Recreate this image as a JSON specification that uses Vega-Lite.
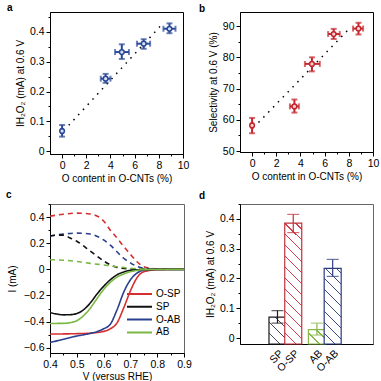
{
  "$schema": "https://vega.github.io/schema/vega-lite/v6.json",
  "padding": {"left": 5, "top": 2, "right": 0, "bottom": 0},
  "config": {
    "font": "Liberation Sans",
    "view": {"stroke": "black", "strokeWidth": 1},
    "axis": {"grid": false, "domainColor": "black", "tickColor": "black", "labelColor": "black", "titleColor": "black", "labelFontSize": 10.5, "titleFontSize": 10, "titleFontWeight": "normal", "tickSize": 4, "labelPadding": 2, "labelFlush": false, "labelOverlap": false},
    "title": {"fontSize": 10, "fontWeight": "bold", "anchor": "start", "frame": "group", "color": "black", "baseline": "alphabetic"}
  },
  "resolve": {"scale": {"color": "independent", "stroke": "independent", "strokeDash": "independent", "fill": "independent"}},
  "bounds": "flush",
  "columns": 2,
  "spacing": {"row": 50, "column": 56},
  "datasets": {
    "aPts": [
      {"o": 0, "olo": -0.08, "ohi": 0.08, "i": 0.068, "ilo": 0.049, "ihi": 0.088},
      {"o": 3.6, "olo": 3.2, "ohi": 4.0, "i": 0.243, "ilo": 0.229, "ihi": 0.259},
      {"o": 4.94, "olo": 4.38, "ohi": 5.53, "i": 0.332, "ilo": 0.309, "ihi": 0.358},
      {"o": 6.75, "olo": 6.19, "ohi": 7.28, "i": 0.36, "ilo": 0.343, "ihi": 0.375},
      {"o": 8.88, "olo": 8.38, "ohi": 9.38, "i": 0.41, "ilo": 0.395, "ihi": 0.428}
    ],
    "aFit": [{"o": 0.55, "i": 0.087}, {"o": 8.27, "i": 0.425}],
    "bPts": [
      {"o": 0, "olo": -0.08, "ohi": 0.08, "s": 58.2, "slo": 55.7, "shi": 60.6},
      {"o": 3.5, "olo": 3.13, "ohi": 3.87, "s": 64.3, "slo": 62.3, "shi": 66.5},
      {"o": 4.95, "olo": 4.37, "ohi": 5.6, "s": 77.9, "slo": 75.5, "shi": 80.0},
      {"o": 6.75, "olo": 6.29, "ohi": 7.25, "s": 87.45, "slo": 85.85, "shi": 89.1},
      {"o": 8.8, "olo": 8.35, "ohi": 9.18, "s": 89.2, "slo": 87.3, "shi": 91.05}
    ],
    "bFit": [{"o": 0.53, "s": 59.15}, {"o": 8.02, "s": 89.1}],
    "curves": [
      {"s": "O-SP", "t": "ring", "v": 0.4, "i": 0.407},
      {"s": "O-SP", "t": "ring", "v": 0.45, "i": 0.422},
      {"s": "O-SP", "t": "ring", "v": 0.5, "i": 0.43},
      {"s": "O-SP", "t": "ring", "v": 0.55, "i": 0.424},
      {"s": "O-SP", "t": "ring", "v": 0.6, "i": 0.37},
      {"s": "O-SP", "t": "ring", "v": 0.625, "i": 0.30},
      {"s": "O-SP", "t": "ring", "v": 0.65, "i": 0.24},
      {"s": "O-SP", "t": "ring", "v": 0.675, "i": 0.175},
      {"s": "O-SP", "t": "ring", "v": 0.7, "i": 0.115},
      {"s": "O-SP", "t": "ring", "v": 0.725, "i": 0.058},
      {"s": "O-SP", "t": "ring", "v": 0.75, "i": 0.02},
      {"s": "O-SP", "t": "ring", "v": 0.8, "i": 0.004},
      {"s": "O-SP", "t": "ring", "v": 0.9, "i": 0.002},
      {"s": "O-AB", "t": "ring", "v": 0.4, "i": 0.255},
      {"s": "O-AB", "t": "ring", "v": 0.45, "i": 0.27},
      {"s": "O-AB", "t": "ring", "v": 0.5, "i": 0.277},
      {"s": "O-AB", "t": "ring", "v": 0.55, "i": 0.27},
      {"s": "O-AB", "t": "ring", "v": 0.6, "i": 0.225},
      {"s": "O-AB", "t": "ring", "v": 0.625, "i": 0.185},
      {"s": "O-AB", "t": "ring", "v": 0.65, "i": 0.135},
      {"s": "O-AB", "t": "ring", "v": 0.675, "i": 0.085},
      {"s": "O-AB", "t": "ring", "v": 0.7, "i": 0.05},
      {"s": "O-AB", "t": "ring", "v": 0.725, "i": 0.022},
      {"s": "O-AB", "t": "ring", "v": 0.75, "i": 0.008},
      {"s": "O-AB", "t": "ring", "v": 0.8, "i": 0.002},
      {"s": "O-AB", "t": "ring", "v": 0.9, "i": 0.002},
      {"s": "SP", "t": "ring", "v": 0.4, "i": 0.255},
      {"s": "SP", "t": "ring", "v": 0.425, "i": 0.262},
      {"s": "SP", "t": "ring", "v": 0.45, "i": 0.262},
      {"s": "SP", "t": "ring", "v": 0.475, "i": 0.24},
      {"s": "SP", "t": "ring", "v": 0.5, "i": 0.215},
      {"s": "SP", "t": "ring", "v": 0.55, "i": 0.14},
      {"s": "SP", "t": "ring", "v": 0.6, "i": 0.065},
      {"s": "SP", "t": "ring", "v": 0.625, "i": 0.035},
      {"s": "SP", "t": "ring", "v": 0.65, "i": 0.015},
      {"s": "SP", "t": "ring", "v": 0.7, "i": 0.003},
      {"s": "SP", "t": "ring", "v": 0.8, "i": 0.002},
      {"s": "SP", "t": "ring", "v": 0.9, "i": 0.002},
      {"s": "AB", "t": "ring", "v": 0.4, "i": 0.074},
      {"s": "AB", "t": "ring", "v": 0.45, "i": 0.07},
      {"s": "AB", "t": "ring", "v": 0.5, "i": 0.06},
      {"s": "AB", "t": "ring", "v": 0.55, "i": 0.046},
      {"s": "AB", "t": "ring", "v": 0.6, "i": 0.033},
      {"s": "AB", "t": "ring", "v": 0.65, "i": 0.02},
      {"s": "AB", "t": "ring", "v": 0.7, "i": 0.008},
      {"s": "AB", "t": "ring", "v": 0.75, "i": 0.003},
      {"s": "AB", "t": "ring", "v": 0.8, "i": 0.002},
      {"s": "AB", "t": "ring", "v": 0.9, "i": 0.002},
      {"s": "O-SP", "t": "disk", "v": 0.4, "i": -0.495},
      {"s": "O-SP", "t": "disk", "v": 0.45, "i": -0.494},
      {"s": "O-SP", "t": "disk", "v": 0.5, "i": -0.492},
      {"s": "O-SP", "t": "disk", "v": 0.55, "i": -0.488},
      {"s": "O-SP", "t": "disk", "v": 0.6, "i": -0.475},
      {"s": "O-SP", "t": "disk", "v": 0.625, "i": -0.455},
      {"s": "O-SP", "t": "disk", "v": 0.65, "i": -0.41},
      {"s": "O-SP", "t": "disk", "v": 0.675, "i": -0.295},
      {"s": "O-SP", "t": "disk", "v": 0.7, "i": -0.165},
      {"s": "O-SP", "t": "disk", "v": 0.725, "i": -0.063},
      {"s": "O-SP", "t": "disk", "v": 0.75, "i": -0.018},
      {"s": "O-SP", "t": "disk", "v": 0.8, "i": -0.003},
      {"s": "O-SP", "t": "disk", "v": 0.9, "i": 0},
      {"s": "O-AB", "t": "disk", "v": 0.4, "i": -0.56},
      {"s": "O-AB", "t": "disk", "v": 0.45, "i": -0.535},
      {"s": "O-AB", "t": "disk", "v": 0.5, "i": -0.51},
      {"s": "O-AB", "t": "disk", "v": 0.55, "i": -0.49},
      {"s": "O-AB", "t": "disk", "v": 0.6, "i": -0.455},
      {"s": "O-AB", "t": "disk", "v": 0.625, "i": -0.42},
      {"s": "O-AB", "t": "disk", "v": 0.65, "i": -0.31},
      {"s": "O-AB", "t": "disk", "v": 0.675, "i": -0.175},
      {"s": "O-AB", "t": "disk", "v": 0.7, "i": -0.08},
      {"s": "O-AB", "t": "disk", "v": 0.725, "i": -0.028},
      {"s": "O-AB", "t": "disk", "v": 0.75, "i": -0.006},
      {"s": "O-AB", "t": "disk", "v": 0.8, "i": -0.001},
      {"s": "O-AB", "t": "disk", "v": 0.9, "i": 0},
      {"s": "SP", "t": "disk", "v": 0.4, "i": -0.33},
      {"s": "SP", "t": "disk", "v": 0.425, "i": -0.342},
      {"s": "SP", "t": "disk", "v": 0.45, "i": -0.348},
      {"s": "SP", "t": "disk", "v": 0.475, "i": -0.347},
      {"s": "SP", "t": "disk", "v": 0.5, "i": -0.338},
      {"s": "SP", "t": "disk", "v": 0.525, "i": -0.31},
      {"s": "SP", "t": "disk", "v": 0.55, "i": -0.258},
      {"s": "SP", "t": "disk", "v": 0.575, "i": -0.19},
      {"s": "SP", "t": "disk", "v": 0.6, "i": -0.13},
      {"s": "SP", "t": "disk", "v": 0.625, "i": -0.08},
      {"s": "SP", "t": "disk", "v": 0.65, "i": -0.042},
      {"s": "SP", "t": "disk", "v": 0.675, "i": -0.02},
      {"s": "SP", "t": "disk", "v": 0.7, "i": -0.008},
      {"s": "SP", "t": "disk", "v": 0.75, "i": -0.002},
      {"s": "SP", "t": "disk", "v": 0.9, "i": 0},
      {"s": "AB", "t": "disk", "v": 0.4, "i": -0.414},
      {"s": "AB", "t": "disk", "v": 0.45, "i": -0.413},
      {"s": "AB", "t": "disk", "v": 0.475, "i": -0.408},
      {"s": "AB", "t": "disk", "v": 0.5, "i": -0.393},
      {"s": "AB", "t": "disk", "v": 0.525, "i": -0.355},
      {"s": "AB", "t": "disk", "v": 0.55, "i": -0.298},
      {"s": "AB", "t": "disk", "v": 0.575, "i": -0.225},
      {"s": "AB", "t": "disk", "v": 0.6, "i": -0.155},
      {"s": "AB", "t": "disk", "v": 0.625, "i": -0.1},
      {"s": "AB", "t": "disk", "v": 0.65, "i": -0.06},
      {"s": "AB", "t": "disk", "v": 0.675, "i": -0.035},
      {"s": "AB", "t": "disk", "v": 0.7, "i": -0.018},
      {"s": "AB", "t": "disk", "v": 0.725, "i": -0.008},
      {"s": "AB", "t": "disk", "v": 0.75, "i": -0.002},
      {"s": "AB", "t": "disk", "v": 0.9, "i": 0}
    ],
    "bars": [
      {"bar": "SP", "pos": 1, "val": 0.07, "lo": 0.05, "hi": 0.092},
      {"bar": "O-SP", "pos": 2, "val": 0.386, "lo": 0.354, "hi": 0.415},
      {"bar": "AB", "pos": 3.5, "val": 0.028, "lo": 0.01, "hi": 0.05},
      {"bar": "O-AB", "pos": 4.5, "val": 0.234, "lo": 0.207, "hi": 0.264}
    ]
  },
  "concat": [
    {
      "width": 133, "height": 142,
      "title": {"text": "a", "dx": -43, "offset": -1},
      "data": {"name": "aPts"},
      "layer": [
        {
          "data": {"name": "aFit"},
          "mark": {"type": "line", "color": "black", "strokeWidth": 1.5, "strokeDash": [1.5, 5.5]},
          "encoding": {
            "x": {"field": "o", "type": "quantitative", "scale": {"domain": [-1, 10], "nice": false, "zero": false},
              "axis": {"title": "O content in O-CNTs (%)", "values": [0,1,2,3,4,5,6,7,8,9,10], "tickCount": 60, "labelOverlap": false, "labelExpr": "datum.value % 2 == 0 ? format(datum.value, 'd') : ''", "tickSize": {"condition": {"test": "datum.value % 2 == 0", "value": 4}, "value": 2}, "titlePadding": 3}},
            "y": {"field": "i", "type": "quantitative", "scale": {"domain": [-0.009, 0.466], "nice": false, "zero": false},
              "axis": {"title": "IH₂O₂ (mA) at 0.6 V", "values": [0,0.05,0.1,0.15,0.2,0.25,0.3,0.35,0.4,0.45], "tickCount": 60, "labelOverlap": false, "labelExpr": "round(datum.value*20) % 2 == 0 ? format(datum.value, '.1~f') : ''", "tickSize": {"condition": {"test": "round(datum.value*20) % 2 == 0", "value": 4}, "value": 2}, "titlePadding": 4}}
          }
        },
        {
          "mark": {"type": "rule", "color": "#2a4897", "strokeWidth": 2},
          "encoding": {"x": {"field": "o", "type": "quantitative"}, "y": {"field": "ilo", "type": "quantitative"}, "y2": {"field": "ihi"}}
        },
        {
          "mark": {"type": "rule", "color": "#2a4897", "strokeWidth": 2},
          "encoding": {"y": {"field": "i", "type": "quantitative"}, "x": {"field": "olo", "type": "quantitative"}, "x2": {"field": "ohi"}}
        },
        {
          "mark": {"type": "tick", "color": "#2a4897", "orient": "horizontal", "size": 6, "thickness": 2},
          "encoding": {"x": {"field": "o", "type": "quantitative"}, "y": {"field": "ilo", "type": "quantitative"}}
        },
        {
          "mark": {"type": "tick", "color": "#2a4897", "orient": "horizontal", "size": 6, "thickness": 2},
          "encoding": {"x": {"field": "o", "type": "quantitative"}, "y": {"field": "ihi", "type": "quantitative"}}
        },
        {
          "mark": {"type": "tick", "color": "#2a4897", "orient": "vertical", "size": 6, "thickness": 2},
          "encoding": {"x": {"field": "olo", "type": "quantitative"}, "y": {"field": "i", "type": "quantitative"}}
        },
        {
          "mark": {"type": "tick", "color": "#2a4897", "orient": "vertical", "size": 6, "thickness": 2},
          "encoding": {"x": {"field": "ohi", "type": "quantitative"}, "y": {"field": "i", "type": "quantitative"}}
        },
        {
          "mark": {"type": "point", "shape": "circle", "filled": true, "fill": "#d5e0f3", "stroke": "#2a4897", "strokeWidth": 1.5, "size": 22, "opacity": 1},
          "encoding": {"x": {"field": "o", "type": "quantitative"}, "y": {"field": "i", "type": "quantitative"}}
        }
      ]
    },
    {
      "width": 133, "height": 140,
      "title": {"text": "b", "dx": -41, "offset": -1.5},
      "data": {"name": "bPts"},
      "layer": [
        {
          "data": {"name": "bFit"},
          "mark": {"type": "line", "color": "black", "strokeWidth": 1.5, "strokeDash": [1.5, 5.5]},
          "encoding": {
            "x": {"field": "o", "type": "quantitative", "scale": {"domain": [-1, 10], "nice": false, "zero": false},
              "axis": {"title": "O content in O-CNTs (%)", "values": [0,1,2,3,4,5,6,7,8,9,10], "tickCount": 60, "labelOverlap": false, "labelExpr": "datum.value % 2 == 0 ? format(datum.value, 'd') : ''", "tickSize": {"condition": {"test": "datum.value % 2 == 0", "value": 4}, "value": 2}, "titlePadding": 3}},
            "y": {"field": "s", "type": "quantitative", "scale": {"domain": [49.7, 94.5], "nice": false, "zero": false},
              "axis": {"title": "Selectivity at 0.6 V (%)", "values": [50,55,60,65,70,75,80,85,90], "tickCount": 60, "labelOverlap": false, "labelExpr": "datum.value % 10 == 0 ? format(datum.value, 'd') : ''", "tickSize": {"condition": {"test": "datum.value % 10 == 0", "value": 4}, "value": 2}, "titlePadding": 4}}
          }
        },
        {
          "mark": {"type": "rule", "color": "#c4262e", "strokeWidth": 2},
          "encoding": {"x": {"field": "o", "type": "quantitative"}, "y": {"field": "slo", "type": "quantitative"}, "y2": {"field": "shi"}}
        },
        {
          "mark": {"type": "rule", "color": "#c4262e", "strokeWidth": 2},
          "encoding": {"y": {"field": "s", "type": "quantitative"}, "x": {"field": "olo", "type": "quantitative"}, "x2": {"field": "ohi"}}
        },
        {
          "mark": {"type": "tick", "color": "#c4262e", "orient": "horizontal", "size": 6, "thickness": 2},
          "encoding": {"x": {"field": "o", "type": "quantitative"}, "y": {"field": "slo", "type": "quantitative"}}
        },
        {
          "mark": {"type": "tick", "color": "#c4262e", "orient": "horizontal", "size": 6, "thickness": 2},
          "encoding": {"x": {"field": "o", "type": "quantitative"}, "y": {"field": "shi", "type": "quantitative"}}
        },
        {
          "mark": {"type": "tick", "color": "#c4262e", "orient": "vertical", "size": 6, "thickness": 2},
          "encoding": {"x": {"field": "olo", "type": "quantitative"}, "y": {"field": "s", "type": "quantitative"}}
        },
        {
          "mark": {"type": "tick", "color": "#c4262e", "orient": "vertical", "size": 6, "thickness": 2},
          "encoding": {"x": {"field": "ohi", "type": "quantitative"}, "y": {"field": "s", "type": "quantitative"}}
        },
        {
          "mark": {"type": "point", "shape": "circle", "filled": true, "fill": "#f5d3d3", "stroke": "#c4262e", "strokeWidth": 1.5, "size": 22, "opacity": 1},
          "encoding": {"x": {"field": "o", "type": "quantitative"}, "y": {"field": "s", "type": "quantitative"}}
        }
      ]
    },
    {
      "width": 134, "height": 149,
      "title": {"text": "c", "dx": -44, "offset": -1},
      "view": {"stroke": "#666"},
      "data": {"name": "curves"},
      "mark": {"type": "line", "strokeWidth": 1.6, "interpolate": "monotone", "clip": true},
      "encoding": {
        "x": {"field": "v", "type": "quantitative", "scale": {"domain": [0.4, 0.9], "nice": false, "zero": false},
          "axis": {"title": "V (versus RHE)", "values": [0.4,0.45,0.5,0.55,0.6,0.65,0.7,0.75,0.8,0.85,0.9], "tickCount": 60, "labelOverlap": false, "labelExpr": "round(datum.value*20) % 2 == 0 ? format(datum.value, '.1f') : ''", "tickSize": {"condition": {"test": "round(datum.value*20) % 2 == 0", "value": 4}, "value": 2}, "titlePadding": 2}},
        "y": {"field": "i", "type": "quantitative", "scale": {"domain": [-0.64, 0.5], "nice": false, "zero": false},
          "axis": {"title": "I (mA)", "values": [-0.6,-0.5,-0.4,-0.3,-0.2,-0.1,0,0.1,0.2,0.3,0.4,0.5], "tickCount": 60, "labelOverlap": false, "labelExpr": "round(datum.value*10) % 2 == 0 ? format(datum.value, '.1~f') : ''", "tickSize": {"condition": {"test": "round(datum.value*10) % 2 == 0", "value": 4}, "value": 2}, "titlePadding": 6}},
        "color": {"field": "s", "type": "nominal", "scale": {"domain": ["O-SP", "SP", "O-AB", "AB"], "range": ["#d62f2f", "#111111", "#2a3f8f", "#79b843"]},
          "legend": {"orient": "none", "legendX": 76, "legendY": 84.5, "title": null, "symbolType": "stroke", "symbolSize": 625, "symbolStrokeWidth": 2, "labelFontSize": 10, "clipHeight": 11, "rowPadding": 1.8, "padding": 0, "labelOffset": 3}},
        "strokeDash": {"field": "t", "type": "nominal", "scale": {"domain": ["disk", "ring"], "range": [[1, 0], [5, 4]]}, "legend": null}
      }
    },
    {
      "width": 133, "height": 140,
      "title": {"text": "d", "dx": -41, "offset": -2},
      "view": {"stroke": "#666"},
      "data": {"name": "bars"},
      "layer": [
        {
          "mark": {"type": "bar", "width": 17, "strokeWidth": 1.2},
          "encoding": {
            "x": {"field": "pos", "type": "quantitative", "scale": {"domain": [-1.06, 6.74], "nice": false, "zero": false},
              "axis": {"title": null, "values": [1, 2, 3.5, 4.5], "tickCount": 60, "ticks": false, "labelAngle": -45, "labelPadding": 4, "labelFontSize": 10.5, "labelOverlap": false, "labelExpr": "datum.value == 1 ? 'SP' : datum.value == 2 ? 'O-SP' : datum.value == 3.5 ? 'AB' : 'O-AB'"}},
            "y": {"field": "val", "type": "quantitative", "scale": {"domain": [-0.02, 0.45], "nice": false, "zero": false},
              "axis": {"title": "IH₂O₂ (mA) at 0.6 V", "values": [0,0.05,0.1,0.15,0.2,0.25,0.3,0.35,0.4,0.45], "tickCount": 60, "labelOverlap": false, "labelExpr": "round(datum.value*20) % 2 == 0 ? format(datum.value, '.1~f') : ''", "tickSize": {"condition": {"test": "round(datum.value*20) % 2 == 0", "value": 4}, "value": 2}, "titlePadding": 4}},
            "y2": {"datum": -0.02},
            "stroke": {"field": "bar", "type": "nominal", "scale": {"domain": ["SP", "O-SP", "AB", "O-AB"], "range": ["#1a1a1a", "#c0303a", "#86b84a", "#2e3b80"]}, "legend": null},
            "fill": {
              "condition": [
                {"test": "datum.bar === 'SP'", "value": {"gradient": "linear", "x1": 0, "y1": 1, "x2": 0.7394, "y2": -0.1653, "stops": [
                  {"offset": 0, "color": "white"}, {"offset": 0.235, "color": "white"}, {"offset": 0.235, "color": "#4a4a5a"}, {"offset": 0.267, "color": "#4a4a5a"}, {"offset": 0.267, "color": "white"},
                  {"offset": 0.486, "color": "white"}, {"offset": 0.486, "color": "#4a4a5a"}, {"offset": 0.518, "color": "#4a4a5a"}, {"offset": 0.518, "color": "white"},
                  {"offset": 0.737, "color": "white"}, {"offset": 0.737, "color": "#4a4a5a"}, {"offset": 0.769, "color": "#4a4a5a"}, {"offset": 0.769, "color": "white"}, {"offset": 1, "color": "white"}]}},
                {"test": "datum.bar === 'O-SP'", "value": {"gradient": "linear", "x1": 0, "y1": 1, "x2": 0.15714, "y2": -0.1185, "stops": [
                  {"offset": 0, "color": "white"},
                  {"offset": 0.0746, "color": "white"}, {"offset": 0.0746, "color": "#d04050"}, {"offset": 0.0848, "color": "#d04050"}, {"offset": 0.0848, "color": "white"},
                  {"offset": 0.1543, "color": "white"}, {"offset": 0.1543, "color": "#d04050"}, {"offset": 0.1645, "color": "#d04050"}, {"offset": 0.1645, "color": "white"},
                  {"offset": 0.2340, "color": "white"}, {"offset": 0.2340, "color": "#d04050"}, {"offset": 0.2442, "color": "#d04050"}, {"offset": 0.2442, "color": "white"},
                  {"offset": 0.3137, "color": "white"}, {"offset": 0.3137, "color": "#d04050"}, {"offset": 0.3239, "color": "#d04050"}, {"offset": 0.3239, "color": "white"},
                  {"offset": 0.3935, "color": "white"}, {"offset": 0.3935, "color": "#d04050"}, {"offset": 0.4037, "color": "#d04050"}, {"offset": 0.4037, "color": "white"},
                  {"offset": 0.4732, "color": "white"}, {"offset": 0.4732, "color": "#d04050"}, {"offset": 0.4834, "color": "#d04050"}, {"offset": 0.4834, "color": "white"},
                  {"offset": 0.5529, "color": "white"}, {"offset": 0.5529, "color": "#d04050"}, {"offset": 0.5631, "color": "#d04050"}, {"offset": 0.5631, "color": "white"},
                  {"offset": 0.6326, "color": "white"}, {"offset": 0.6326, "color": "#d04050"}, {"offset": 0.6428, "color": "#d04050"}, {"offset": 0.6428, "color": "white"},
                  {"offset": 0.7123, "color": "white"}, {"offset": 0.7123, "color": "#d04050"}, {"offset": 0.7225, "color": "#d04050"}, {"offset": 0.7225, "color": "white"},
                  {"offset": 0.7920, "color": "white"}, {"offset": 0.7920, "color": "#d04050"}, {"offset": 0.8022, "color": "#d04050"}, {"offset": 0.8022, "color": "white"},
                  {"offset": 0.8717, "color": "white"}, {"offset": 0.8717, "color": "#d04050"}, {"offset": 0.8819, "color": "#d04050"}, {"offset": 0.8819, "color": "white"},
                  {"offset": 0.9514, "color": "white"}, {"offset": 0.9514, "color": "#d04050"}, {"offset": 0.9616, "color": "#d04050"}, {"offset": 0.9616, "color": "white"},
                  {"offset": 1, "color": "white"}]}},
                {"test": "datum.bar === 'AB'", "value": {"gradient": "linear", "x1": 0, "y1": 1, "x2": 1.0782, "y2": 0.0932, "stops": [
                  {"offset": 0, "color": "white"}, {"offset": 0.329, "color": "white"}, {"offset": 0.329, "color": "#86b84a"}, {"offset": 0.3738, "color": "#86b84a"}, {"offset": 0.3738, "color": "white"},
                  {"offset": 0.6805, "color": "white"}, {"offset": 0.6805, "color": "#86b84a"}, {"offset": 0.7253, "color": "#86b84a"}, {"offset": 0.7253, "color": "white"}, {"offset": 1, "color": "white"}]}}
              ],
              "value": {"gradient": "linear", "x1": 0, "y1": 1, "x2": 0.2618, "y2": -0.1658, "stops": [
                {"offset": 0, "color": "white"},
                {"offset": 0.1111, "color": "white"}, {"offset": 0.1111, "color": "#3a4a8a"}, {"offset": 0.1263, "color": "#3a4a8a"}, {"offset": 0.1263, "color": "white"},
                {"offset": 0.2297, "color": "white"}, {"offset": 0.2297, "color": "#3a4a8a"}, {"offset": 0.2449, "color": "#3a4a8a"}, {"offset": 0.2449, "color": "white"},
                {"offset": 0.3484, "color": "white"}, {"offset": 0.3484, "color": "#3a4a8a"}, {"offset": 0.3636, "color": "#3a4a8a"}, {"offset": 0.3636, "color": "white"},
                {"offset": 0.4670, "color": "white"}, {"offset": 0.4670, "color": "#3a4a8a"}, {"offset": 0.4822, "color": "#3a4a8a"}, {"offset": 0.4822, "color": "white"},
                {"offset": 0.5857, "color": "white"}, {"offset": 0.5857, "color": "#3a4a8a"}, {"offset": 0.6009, "color": "#3a4a8a"}, {"offset": 0.6009, "color": "white"},
                {"offset": 0.7044, "color": "white"}, {"offset": 0.7044, "color": "#3a4a8a"}, {"offset": 0.7196, "color": "#3a4a8a"}, {"offset": 0.7196, "color": "white"},
                {"offset": 0.8230, "color": "white"}, {"offset": 0.8230, "color": "#3a4a8a"}, {"offset": 0.8382, "color": "#3a4a8a"}, {"offset": 0.8382, "color": "white"},
                {"offset": 0.9417, "color": "white"}, {"offset": 0.9417, "color": "#3a4a8a"}, {"offset": 0.9569, "color": "#3a4a8a"}, {"offset": 0.9569, "color": "white"},
                {"offset": 1, "color": "white"}]}
            }
          }
        },
        {
          "mark": {"type": "rule", "strokeWidth": 1.2},
          "encoding": {
            "x": {"field": "pos", "type": "quantitative"},
            "y": {"field": "lo", "type": "quantitative"}, "y2": {"field": "hi"},
            "color": {"field": "bar", "type": "nominal", "scale": {"domain": ["SP", "O-SP", "AB", "O-AB"], "range": ["#1a1a1a", "#c0303a", "#86b84a", "#2e3b80"]}, "legend": null}
          }
        },
        {
          "mark": {"type": "tick", "orient": "horizontal", "size": 12, "thickness": 1.2},
          "encoding": {
            "x": {"field": "pos", "type": "quantitative"},
            "y": {"field": "lo", "type": "quantitative"},
            "color": {"field": "bar", "type": "nominal", "legend": null}
          }
        },
        {
          "mark": {"type": "tick", "orient": "horizontal", "size": 12, "thickness": 1.2},
          "encoding": {
            "x": {"field": "pos", "type": "quantitative"},
            "y": {"field": "hi", "type": "quantitative"},
            "color": {"field": "bar", "type": "nominal", "legend": null}
          }
        }
      ]
    }
  ]
}
